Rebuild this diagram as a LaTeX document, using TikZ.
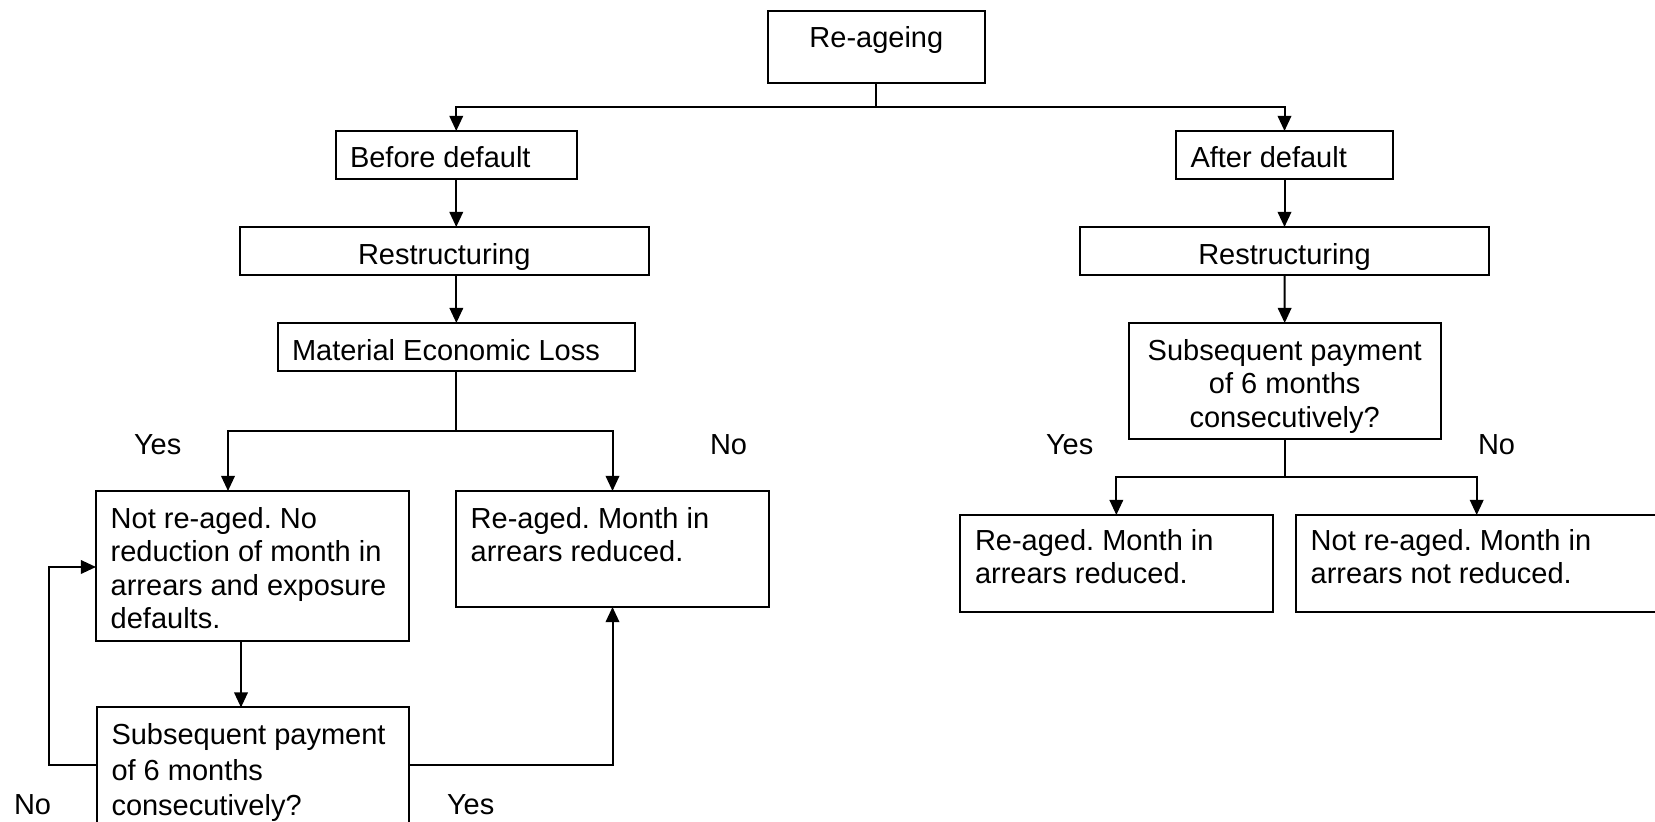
\documentclass[tikz,border=0pt]{standalone}
\usepackage{fontspec}
\setmainfont{Liberation Sans}
\usetikzlibrary{arrows.meta,calc}
\frenchspacing
\newcommand{\fsz}{\fontsize{14.5pt}{16.75pt}\selectfont\frenchspacing}
\newcommand{\fr}{\rule{0pt}{12pt}}
\begin{document}
\begin{tikzpicture}[x=0.5pt,y=-0.5pt,
  box/.style={draw,line width=1pt,inner sep=0pt,outer sep=0pt,anchor=north west},
  txt/.style={inner sep=0pt,outer sep=0pt,anchor=north west,align=left,font=\fsz},
  ctxt/.style={inner sep=0pt,outer sep=0pt,anchor=north,align=center,font=\fsz},
  lbl/.style={inner sep=0pt,outer sep=0pt,anchor=base west,font=\fsz},
  arr/.style={line width=1pt,-{Triangle[length=7.6pt,width=6.8pt]}}]
\fill[white] (0,0) rectangle (1655,822);
\useasboundingbox (0,0) rectangle (1655,822);
\clip (0,0) rectangle (1655,822);

% boxes
\node[box,minimum width=108.35pt,minimum height=36pt] (reage) at (768,11) {};
\node[box,minimum width=120.25pt,minimum height=24pt] (before) at (336,131) {};
\node[box,minimum width=204.25pt,minimum height=24pt] (restL) at (240,227) {};
\node[box,minimum width=108.5pt,minimum height=24pt] (after) at (1176,131) {};
\node[box,minimum width=204.5pt,minimum height=24pt] (restR) at (1080,227) {};
\node[box,minimum width=178.35pt,minimum height=24pt] (mel) at (278,323) {};
\node[box,minimum width=156pt,minimum height=57.85pt] (subR) at (1128.7,323) {};
\node[box,minimum width=156.35pt,minimum height=74.85pt] (b1) at (96,491) {};
\node[box,minimum width=156.5pt,minimum height=58pt] (b2) at (456,491) {};
\node[box,minimum width=156pt,minimum height=65pt] (b3) at (96.5,707.5) {};
\node[box,minimum width=156.35pt,minimum height=48.35pt] (r1) at (960,515) {};
\node[box,minimum width=180.7pt,minimum height=48.35pt] (r2) at (1296,515) {};

% texts
\node[ctxt] (treage) at (876.35,24) {\fr Re-ageing};
\node[txt] (tbefore) at (350,143.5) {\fr Before default};
\node[ctxt] (trestL) at (444.25,240.5) {\fr Restructuring};
\node[txt] (tafter) at (1190.5,143.5) {\fr After default};
\node[ctxt] (trestR) at (1284.5,240.5) {\fr Restructuring};
\node[txt] (tmel) at (292,336.5) {\fr Material Economic Loss};
\node[ctxt] (tsubR) at (1284.7,336.5) {\fr Subsequent payment\\of 6 months\\consecutively?};
\node[txt] (tb1) at (110.7,504.5) {\fr Not re-aged. No\\reduction of month in\\arrears and exposure\\defaults.};
\node[txt] (tb2) at (470.7,504.5) {\fr Re-aged. Month in\\arrears reduced.};
\node[txt] (tb3) at (111.5,721) {\fr Subsequent payment\\[1pt]of 6 months\\[1pt]consecutively?};
\node[txt] (tr1) at (975,526.5) {\fr Re-aged. Month in\\arrears reduced.};
\node[txt] (tr2) at (1310.7,526.5) {\fr Not re-aged. Month in\\arrears not reduced.};

% labels
\node[lbl] (yes1) at (134,454.5) {Yes};
\node[lbl] (no1) at (710,454.5) {No};
\node[lbl] (yes2) at (1046,454.5) {Yes};
\node[lbl] (no2) at (1478,454.5) {No};
\node[lbl] (no3) at (14,815) {No};
\node[lbl] (yes3) at (447,815) {Yes};

% connectors
\draw[arr] (reage.south) -- ++(0,24) -| (before.north);
\draw[arr] (reage.south) -- ++(0,24) -| (after.north);
\draw[arr] (before.south) -- (before.south |- restL.north);
\draw[arr] (mel.north |- restL.south) -- (mel.north);
\draw[arr] (after.south) -- (restR.north);
\draw[arr] (restR.south) -- (subR.north);
\draw[arr] (mel.south) -- ++(0,60) -| ([xshift=66pt]b1.north west);
\draw[arr] (mel.south) -- ++(0,60) -| (b2.north);
\draw[arr] (subR.south) -- ++(0,38) -| (r1.north);
\draw[arr] (subR.south) -- ++(0,38) -| (r2.north);
\draw[arr] ([xshift=72.5pt]b1.south west) -- ([xshift=72.5pt]b1.south west |- b3.north);
\draw[arr] ([yshift=-28.75pt]b3.north west) -- ++(-48,0) |- ([yshift=-38pt]b1.north west);
\draw[arr] ([yshift=-28.75pt]b3.north east) -| (b2.south);
\end{tikzpicture}
\end{document}
